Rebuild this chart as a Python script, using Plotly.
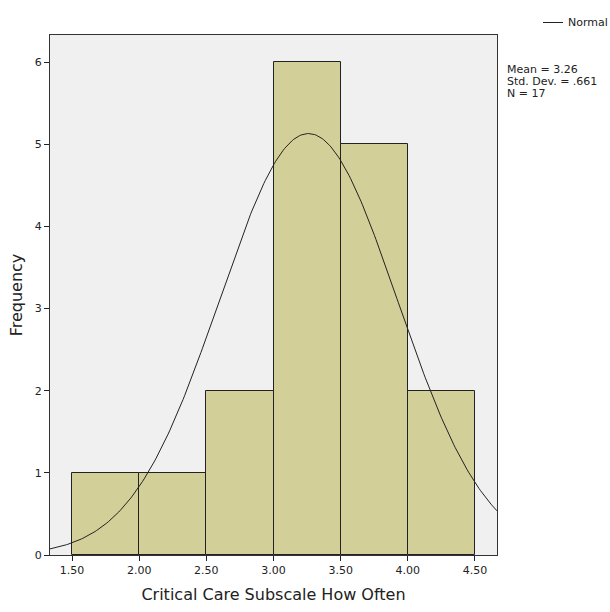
import numpy as np
import plotly.graph_objects as go

bin_starts = [1.5, 2.0, 2.5, 3.0, 3.5, 4.0]
counts = [1, 1, 2, 6, 5, 2]
bin_width = 0.5
mean, sd, n = 3.26, 0.661, 17
x_ticks = [1.5, 2.0, 2.5, 3.0, 3.5, 4.0, 4.5]
x_tick_labels = ["1.50", "2.00", "2.50", "3.00", "3.50", "4.00", "4.50"]
y_ticks = [0, 1, 2, 3, 4, 5, 6]
stats_lines = ["Mean = 3.26", "Std. Dev. = .661", "N = 17"]
legend_label = "Normal"

x_range = [1.336, 4.664]
y_range = [0, 6.33]

W, H = 610, 612
ML, MR, MT, MB = 50, 113, 35, 57
plot_w = W - ML - MR
plot_h = H - MT - MB


def px_x(x):
    return (x - ML) / plot_w


def px_y(y):
    return 1 - (y - MT) / plot_h


centers = [s + bin_width / 2 for s in bin_starts]
xs = np.linspace(x_range[0], x_range[1], 300)
ys = n * bin_width / (sd * np.sqrt(2 * np.pi)) * np.exp(-0.5 * ((xs - mean) / sd) ** 2)

font = "DejaVu Sans"
fig = go.Figure()
fig.add_trace(go.Bar(
    x=centers, y=counts, width=bin_width,
    marker=dict(color="#D3CF99", line=dict(color="#222222", width=1)),
    showlegend=False, hoverinfo="skip"))
fig.add_trace(go.Scatter(
    x=xs, y=ys, mode="lines", name=legend_label, showlegend=False,
    line=dict(color="#222222", width=1)))

annotations = []
for i, t in enumerate(stats_lines):
    annotations.append(dict(
        x=px_x(505), y=px_y(69 + i * 12), xref="paper", yref="paper",
        xanchor="left", yanchor="middle", align="left", showarrow=False,
        text=t, font=dict(size=11, family=font)))
annotations.append(dict(
    x=px_x(566), y=px_y(22.5), xref="paper", yref="paper",
    xanchor="left", yanchor="middle", showarrow=False,
    text=legend_label, font=dict(size=11, family=font)))

fig.update_layout(
    width=W, height=H,
    margin=dict(l=ML, r=MR, t=MT, b=MB, autoexpand=False),
    paper_bgcolor="white", plot_bgcolor="#F0F0F0",
    font=dict(family=font, color="#222222"),
    bargap=0,
    showlegend=False,
    annotations=annotations,
    shapes=[dict(type="line", xref="paper", yref="paper",
                 x0=px_x(543), x1=px_x(563), y0=px_y(22.5), y1=px_y(22.5),
                 line=dict(color="#222222", width=1))],
)
fig.update_xaxes(
    range=x_range, tickvals=x_ticks, ticktext=x_tick_labels,
    ticks="outside", ticklen=5, tickcolor="#222222",
    tickfont=dict(size=11), showgrid=False, zeroline=False,
    showline=True, linecolor="#333333", linewidth=1, mirror=True,
    title=dict(text="Critical Care Subscale How Often", font=dict(size=16), standoff=12))
fig.update_yaxes(
    range=y_range, tickvals=y_ticks,
    ticks="outside", ticklen=5, tickcolor="#222222",
    tickfont=dict(size=11), showgrid=False, zeroline=False,
    showline=True, linecolor="#333333", linewidth=1, mirror=True,
    title=dict(text="Frequency", font=dict(size=16), standoff=8))

fig.write_html("out.html")
